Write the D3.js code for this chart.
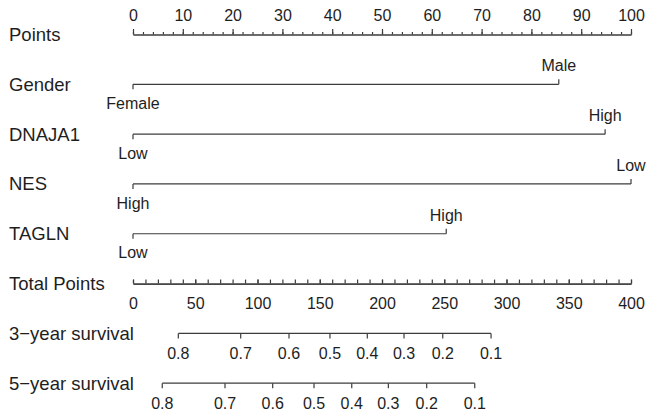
<!DOCTYPE html>
<html><head><meta charset="utf-8">
<script src="https://cdn.jsdelivr.net/npm/d3@7"></script>
<style>
html,body{margin:0;padding:0;background:#fff;}
svg{display:block;font-family:"Liberation Sans",Arial,sans-serif;}
</style></head>
<body><svg id="c" width="647" height="417"></svg>
<script>
// ---- data ----
const rowNames = ["Points","Gender","DNAJA1","NES","TAGLN","Total Points","3\u2212year survival","5\u2212year survival"];
const pointsTicks = [0,10,20,30,40,50,60,70,80,90,100];
const totalTicks = [0,50,100,150,200,250,300,350,400];
const genderLevels = ["Female","Male"];
const genderPoints = [0,85.5];
const dnaja1Levels = ["Low","High"];
const dnaja1Points = [0,94.8];
const nesLevels = ["High","Low"];
const nesPoints = [0,100];
const taglnLevels = ["Low","High"];
const taglnPoints = [0,62.9];
const survLabels = ["0.8","0.7","0.6","0.5","0.4","0.3","0.2","0.1"];
const surv3Total = [36.4,86.5,125.3,158.2,188.2,217.7,248.8,287.6];
const surv5Total = [23.5,73.9,112.2,145.4,175.7,205.1,235.9,274.5];

const svg = d3.select("#c");
const ink = "#3c3c3c", txt = "#1e1e1e";
const lblSize = 18.5, tickSize = 16;
const xP = d3.scaleLinear().domain([0,100]).range([133,631]);
const xT = d3.scaleLinear().domain([0,400]).range([133,631]);
const y = d3.scaleLinear().domain([0,7]).range([34.5,383.2]);

// row labels
svg.append("g").selectAll("text").data(rowNames).join("text")
  .attr("x",9).attr("y",(d,i)=>y(i)).attr("dy","0.35em")
  .attr("font-size",lblSize).attr("fill",txt).text(d=>d);

function styleAxis(g){
  g.selectAll("path,line").attr("stroke",ink).attr("stroke-width",1.2);
  g.selectAll("text").attr("font-size",tickSize).attr("fill",txt).attr("font-family","Liberation Sans, Arial, sans-serif");
}

// Points axis
const gP = svg.append("g").attr("transform",`translate(0,${y(0)})`);
gP.call(d3.axisTop(xP).tickValues(d3.range(0,101,2)).tickSize(2.5).tickSizeOuter(0).tickFormat(""));
gP.append("g").call(d3.axisTop(xP).tickValues(pointsTicks).tickSize(5.5).tickSizeOuter(0).tickPadding(8));
styleAxis(gP);

// Total Points axis (ticks up, labels below)
const gT = svg.append("g").attr("transform",`translate(0,${y(5)})`);
gT.call(d3.axisBottom(xT).tickValues(d3.range(0,401,10)).tickSizeInner(-4).tickSizeOuter(0).tickFormat(""));
gT.append("g").call(d3.axisBottom(xT).tickValues(totalTicks).tickSizeInner(-4).tickSizeOuter(0).tickPadding(14));
styleAxis(gT);

// categorical variables
const vars = [
  {levels:genderLevels, pts:genderPoints},
  {levels:dnaja1Levels, pts:dnaja1Points},
  {levels:nesLevels, pts:nesPoints},
  {levels:taglnLevels, pts:taglnPoints}
];
vars.forEach((v,i)=>{
  const yy = y(i+1);
  const g = svg.append("g");
  g.append("line").attr("x1",xP(d3.min(v.pts))).attr("x2",xP(d3.max(v.pts)))
    .attr("y1",yy).attr("y2",yy).attr("stroke",ink).attr("stroke-width",1.2);
  v.levels.forEach((lab,j)=>{
    const up = j===1;
    const x = xP(v.pts[j]);
    g.append("line").attr("x1",x).attr("x2",x).attr("y1",yy).attr("y2",up?yy-5:yy+5)
      .attr("stroke",ink).attr("stroke-width",1.2);
    g.append("text").attr("x",x).attr("y",up?yy-18.5:yy+19).attr("dy","0.35em")
      .attr("text-anchor","middle").attr("font-size",tickSize).attr("fill",txt).text(lab);
  });
});

// survival axes
[[surv3Total,6],[surv5Total,7]].forEach(([tot,r])=>{
  const yy = y(r);
  const g = svg.append("g");
  g.append("line").attr("x1",xT(d3.min(tot))).attr("x2",xT(d3.max(tot)))
    .attr("y1",yy).attr("y2",yy).attr("stroke",ink).attr("stroke-width",1.2);
  g.selectAll("line.t").data(tot).join("line").attr("class","t")
    .attr("x1",d=>xT(d)).attr("x2",d=>xT(d)).attr("y1",yy).attr("y2",yy+5)
    .attr("stroke",ink).attr("stroke-width",1.2);
  g.selectAll("text").data(tot).join("text")
    .attr("x",d=>xT(d)).attr("y",yy+20).attr("dy","0.35em")
    .attr("text-anchor","middle").attr("font-size",tickSize).attr("fill",txt)
    .text((d,i)=>survLabels[i]);
});
</script></body></html>
